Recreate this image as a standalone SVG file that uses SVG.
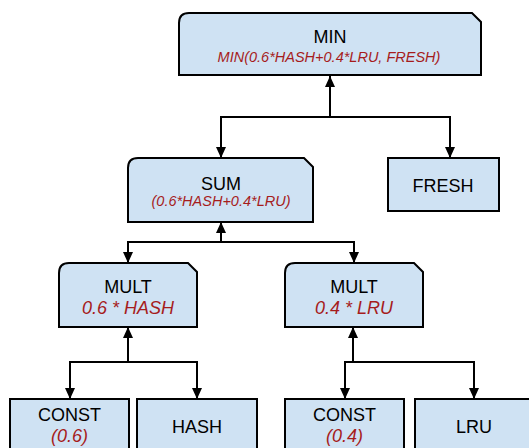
<svg xmlns="http://www.w3.org/2000/svg" width="529" height="448" viewBox="0 0 529 448">
  <defs>
    <marker id="arrow" markerUnits="userSpaceOnUse" markerWidth="11" markerHeight="10" viewBox="0 0 11 10" refX="11" refY="5" orient="auto">
      <path d="M0,0 L11,5 L0,10 z" fill="#000"/>
    </marker>
    <style>
      .box { fill: #cfe2f3; stroke: #000; stroke-width: 2; }
      .title { font-family: "Liberation Sans", Arial, sans-serif; font-size: 18px; fill: #000; text-anchor: middle; }
      .sub { font-family: "Liberation Sans", Arial, sans-serif; font-size: 18px; font-style: italic; fill: #a61c1c; text-anchor: middle; }
      .sub.small { font-size: 14.5px; }
      .edge { fill: none; stroke: #000; stroke-width: 2; }
      .edge.arr { marker-end: url(#arrow); }
    </style>
  </defs>

  <!-- connectors -->
  <g id="connectors">
    <!-- MIN children -->
    <line class="edge arr" x1="330" y1="117" x2="330" y2="76"/>
    <line class="edge" x1="220" y1="117" x2="451" y2="117"/>
    <line class="edge arr" x1="221" y1="117" x2="221" y2="158"/>
    <line class="edge arr" x1="450" y1="117" x2="450" y2="158"/>
    <!-- SUM children -->
    <line class="edge arr" x1="221" y1="242" x2="221" y2="222"/>
    <line class="edge" x1="127" y1="242" x2="355" y2="242"/>
    <line class="edge arr" x1="128" y1="242" x2="128" y2="263"/>
    <line class="edge arr" x1="354" y1="242" x2="354" y2="263"/>
    <!-- left MULT children -->
    <line class="edge arr" x1="128" y1="362" x2="128" y2="327"/>
    <line class="edge" x1="69" y1="362" x2="198" y2="362"/>
    <line class="edge arr" x1="70" y1="362" x2="70" y2="399"/>
    <line class="edge arr" x1="197" y1="362" x2="197" y2="399"/>
    <!-- right MULT children -->
    <line class="edge arr" x1="353" y1="362" x2="353" y2="327"/>
    <line class="edge" x1="344" y1="362" x2="475" y2="362"/>
    <line class="edge arr" x1="345" y1="362" x2="345" y2="399"/>
    <line class="edge arr" x1="474" y1="362" x2="474" y2="399"/>
  </g>

  <!-- operator nodes: rounded top-left, clipped top-right -->
  <g id="node-min">
    <path class="box" d="M179,75 V23 Q179,13 189,13 H472 L481,22 V75 Z"/>
    <text class="title" x="330" y="43">MIN</text>
    <text class="sub small" x="329" y="62">MIN(0.6*HASH+0.4*LRU, FRESH)</text>
  </g>

  <g id="node-sum">
    <path class="box" d="M128,222 V168 Q128,158 138,158 H304 L313,167 V222 Z"/>
    <text class="title" x="221" y="190">SUM</text>
    <text class="sub small" x="221" y="206">(0.6*HASH+0.4*LRU)</text>
  </g>

  <g id="node-fresh">
    <rect class="box" x="388" y="158" width="111" height="53"/>
    <text class="title" x="443" y="192">FRESH</text>
  </g>

  <g id="node-mult-hash">
    <path class="box" d="M59,327 V273 Q59,263 69,263 H188 L197,272 V327 Z"/>
    <text class="title" x="128" y="293">MULT</text>
    <text class="sub" x="128" y="314">0.6 * HASH</text>
  </g>

  <g id="node-mult-lru">
    <path class="box" d="M285,327 V273 Q285,263 295,263 H414 L423,272 V327 Z"/>
    <text class="title" x="354" y="293">MULT</text>
    <text class="sub" x="354" y="314">0.4 * LRU</text>
  </g>

  <!-- leaf nodes -->
  <g id="node-const-06">
    <rect class="box" x="10" y="399" width="119" height="60"/>
    <text class="title" x="69.5" y="421">CONST</text>
    <text class="sub" x="69.5" y="442">(0.6)</text>
  </g>

  <g id="node-hash">
    <rect class="box" x="137" y="399" width="120" height="60"/>
    <text class="title" x="197" y="433">HASH</text>
  </g>

  <g id="node-const-04">
    <rect class="box" x="285" y="399" width="119" height="60"/>
    <text class="title" x="344.5" y="421">CONST</text>
    <text class="sub" x="344.5" y="442">(0.4)</text>
  </g>

  <g id="node-lru">
    <rect class="box" x="415" y="399" width="120" height="60"/>
    <text class="title" x="474" y="433">LRU</text>
  </g>
</svg>
